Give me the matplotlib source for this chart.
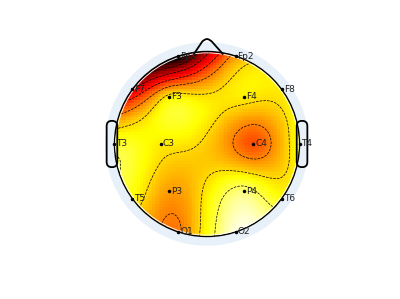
import matplotlib
matplotlib.use("Agg")
import matplotlib.pyplot as plt
import numpy as np
from matplotlib.patches import Circle, FancyBboxPatch

# electrode names, positions on unit head and amplitudes (0..1 scale)
channels = ["Fp1", "Fp2", "F7", "F3", "F4", "F8", "T3", "C3",
            "C4", "T4", "T5", "P3", "P4", "T6", "O1", "O2"]
pos_x = [-0.31, 0.31, -0.81, -0.41, 0.40, 0.81, -1.0, -0.50,
         0.50, 1.0, -0.81, -0.41, 0.40, 0.81, -0.31, 0.31]
pos_y = [0.95, 0.95, 0.59, 0.51, 0.51, 0.59, 0.0, 0.0,
         0.0, 0.0, -0.59, -0.51, -0.51, -0.59, -0.95, -0.95]
values = [1.0, 0.40, 0.70, 0.28, 0.28, 0.28, 0.21, 0.28,
          0.52, 0.24, 0.25, 0.40, 0.14, 0.25, 0.45, 0.04]
levels = [0.18, 0.31, 0.44, 0.57, 0.70, 0.83, 0.94]


def _tps(px, py, v, gx, gy):
    px, py, v = map(np.asarray, (px, py, v))

    def kern(r):
        with np.errstate(divide="ignore", invalid="ignore"):
            k = r**2 * np.log(r)
        return np.nan_to_num(k)

    n = len(px)
    d = np.hypot(px[:, None] - px[None, :], py[:, None] - py[None, :])
    P = np.column_stack([np.ones(n), px, py])
    A = np.zeros((n + 3, n + 3))
    A[:n, :n] = kern(d)
    A[:n, n:] = P
    A[n:, :n] = P.T
    rhs = np.concatenate([v, np.zeros(3)])
    w = np.linalg.solve(A, rhs)
    dg = np.hypot(gx[..., None] - px, gy[..., None] - py)
    return kern(dg) @ w[:n] + w[n] + w[n + 1] * gx + w[n + 2] * gy


fig = plt.figure(figsize=(4.0, 2.99), dpi=100)
ax = fig.add_axes([0, 0, 1, 1])
scale = 92.5
ax.set_xlim(-207 / scale, (400 - 207) / scale)
ax.set_ylim(-155 / scale, 144 / scale)
ax.axis("off")

ax.add_patch(Circle((0, 0), 1.1, facecolor="#e8f1fa", edgecolor="none", zorder=0))

n = 64
g = np.linspace(-1, 1, n)
gx, gy = np.meshgrid(g, g)
zi = _tps(pos_x, pos_y, values, gx, gy)
zi[np.hypot(gx, gy) > 1.03] = np.nan

head = Circle((0, 0), 1.0, transform=ax.transData)
im = ax.imshow(zi, extent=[-1, 1, -1, 1], origin="lower", cmap="hot_r",
               vmin=0, vmax=1, interpolation="nearest", zorder=1)
im.set_clip_path(head)
cs = ax.contour(gx, gy, zi, levels=levels,
                colors="k", linewidths=0.5, linestyles="--", zorder=2)
cs.set_clip_path(head)

# head outline, nose, ears
ax.add_patch(Circle((0, 0), 1.0, fill=False, edgecolor="k", linewidth=1.0, zorder=3))
ax.add_patch(Circle((0, 0), 0.985, fill=False, edgecolor="w", linewidth=0.6, zorder=3))
nose_x = [-0.14, -0.05, -0.02, 0.0, 0.02, 0.05, 0.17]
nose_y = [0.975, 1.11, 1.13, 1.135, 1.13, 1.11, 0.975]
ax.plot(nose_x, nose_y, color="k", linewidth=1.3, zorder=3)
for side in (-1, 1):
    x0 = -1.085 if side < 0 else 0.97
    ax.add_patch(FancyBboxPatch((x0, -0.25), 0.115, 0.5,
                                boxstyle="round,pad=0,rounding_size=0.055",
                                fill=False, edgecolor="k", linewidth=1.3, zorder=3))

ax.plot(pos_x, pos_y, "k.", markersize=3, zorder=4)
for name, x, y in zip(channels, pos_x, pos_y):
    ax.text(x + 0.02, y, name, fontsize=6.5, va="center", ha="left",
            color="#222222", zorder=5)

fig.savefig("out.png", dpi=100)
